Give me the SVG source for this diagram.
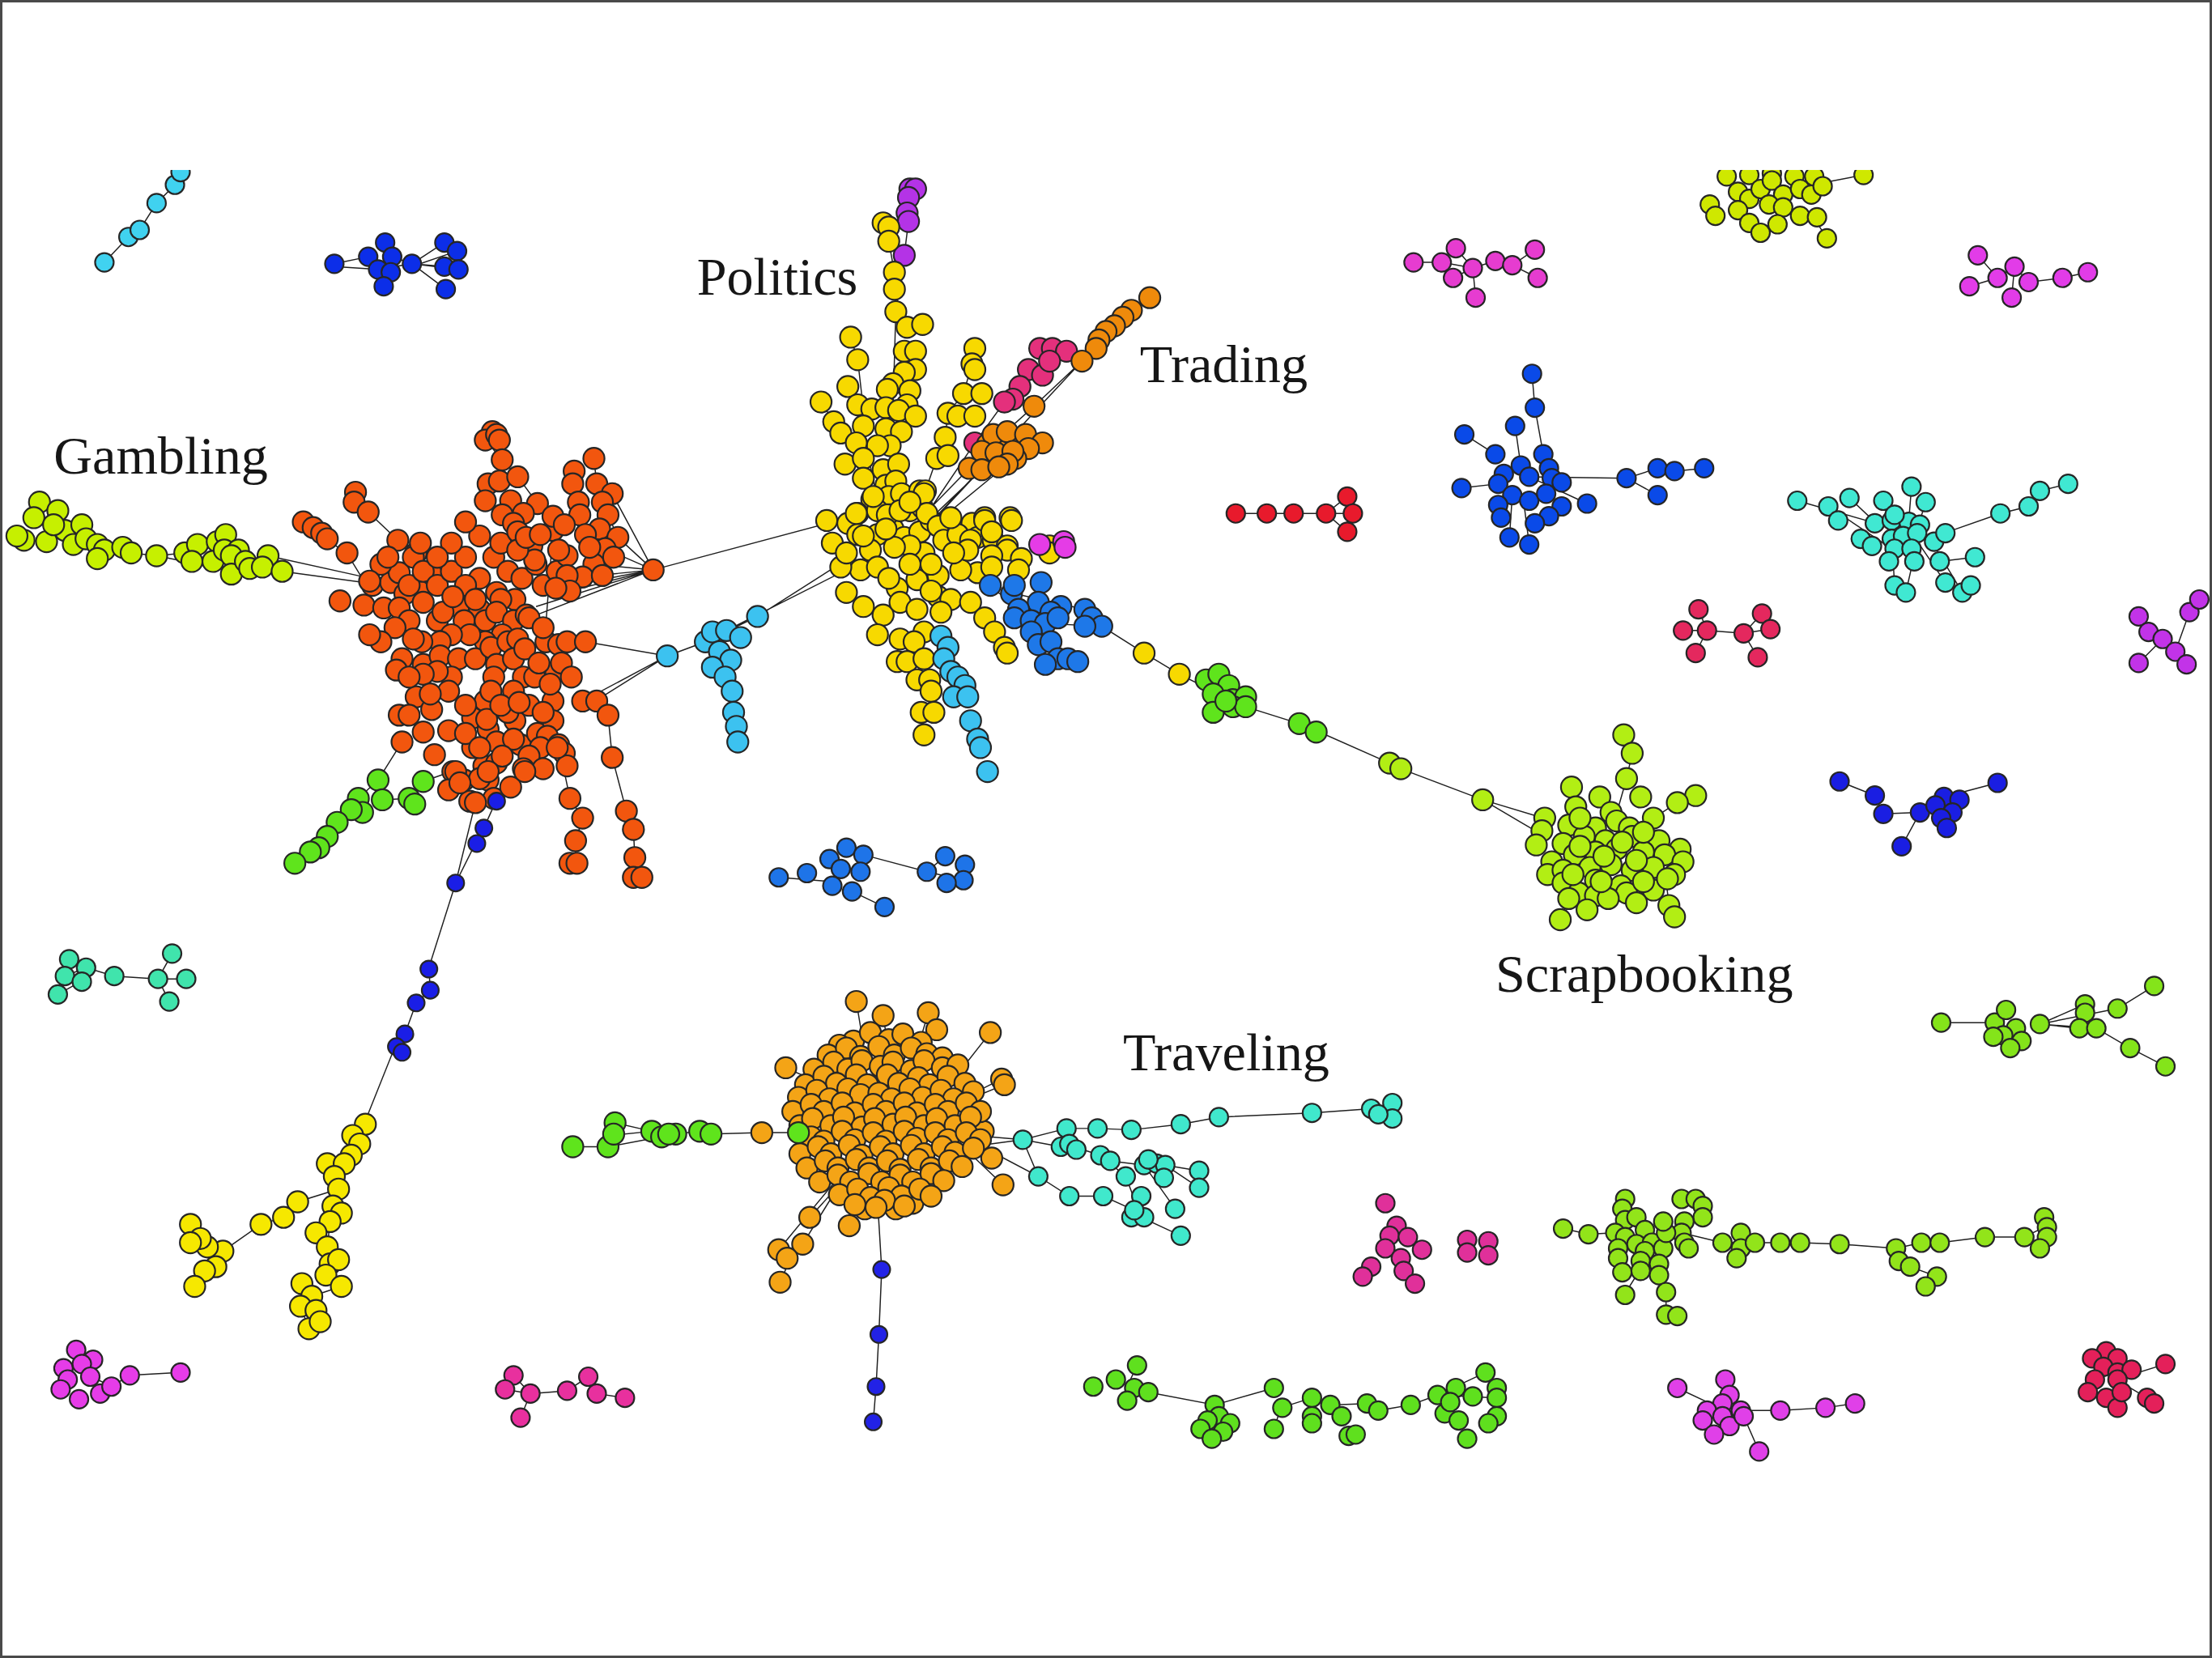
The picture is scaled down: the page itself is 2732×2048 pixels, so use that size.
<svg xmlns="http://www.w3.org/2000/svg" width="2732" height="2048" viewBox="0 0 2732 2048">
<style>
.e{fill:none;stroke:#202020;stroke-width:.85}
#nodes circle{r:7.5px;stroke:#262626;stroke-width:1.25}
#nodes .s circle{r:6.6px}
#nodes .t circle{r:6px}
.lbl{font-family:"Liberation Serif","Times New Roman",serif;font-size:38px;fill:#161616}
</style>
<rect x="0" y="0" width="2732" height="2048" fill="#fff"/>
<g transform="scale(1.74235)">
<g id="connectors">
<path class="e" d="M74,186L91,168L99,163L111,144L124,131L128,122M237,187L261,182M237,189L268,191M278,182L292,187L315,172L324,178M292,187L315,189M292,187L325,191M292,187L316,205M292,189L324,178M268,191L292,187"/>
<path class="e" d="M17,383L33,384L46,376L58,372L69,386L87,388L93,392L111,394L131,392L140,386L154,384L164,394L177,403L190,394L200,405M28,356L41,362L38,372L58,372M200,405L258,413M190,394L258,409M111,394L131,398"/>
<path class="e" d="M215,370L232,382L247,394L258,412M252,349L261,363L282,383L293,395L300,420M344,312L356,326L367,338L381,357L392,376L386,455M421,325L423,343L427,356L431,365L438,381M463,404L434,350M463,404L438,381M463,404L429,389M463,404L421,400M463,404L413,409M463,404L404,419M463,404L394,417M463,404L375,438M463,404L380,430M463,404L598,368M415,455L473,465M422,497L473,465M413,497L473,465M473,465L500,455L537,437L606,393M505,452L600,404"/>
<path class="e" d="M415,497L431,507L434,537L444,575L449,588L450,608L454,622M396,528L404,566L413,580L408,596L408,612M372,547L375,536M285,526L268,553M320,547L300,554M268,553L254,566L249,574L239,583L232,593L226,601L220,604L209,612M270,567L290,566M352,567L343,587L337,598L323,626L304,686L305,702L295,711L287,733L280,742L258,797M337,569L323,626"/>
<path class="e" d="M258,797L250,805L255,811L249,819L238,834L240,843L236,855L242,860L234,866L232,884L234,896L231,904L242,912L221,919L213,926L219,942M240,843L211,852L201,863L185,868L158,887L147,884L135,868M158,887L153,898L145,901L138,912"/>
<path class="e" d="M645,134L643,140L643,151L644,157L641,181L635,221M626,158L630,171L634,193L634,205L635,221L643,232M635,221L633,290M603,239L608,255L612,290M582,285L591,299L596,307L607,314M691,247L689,258L683,279L672,293L670,310L664,325L656,348M756,249L746,247L737,247M744,256L729,262L723,274L718,283L712,285L691,314L660,360M815,210L802,220L796,225L790,231L784,235L779,241L777,247L767,256L733,288L713,306M767,256L670,360M687,332L650,370M696,333L655,372M706,321L660,370M713,330L662,372M608,287L620,345M641,249L640,300M700,415L740,442M715,420L769,432"/>
<path class="e" d="M740,442L781,444L811,463L836,478L860,490M870,497L921,513L933,518L985,541L993,545L1051,567L1094,580M1051,567L1090,590M1151,521L1157,534L1153,552L1145,580M1202,564L1189,569L1172,580M1106,652L1112,637M1187,650L1183,642L1181,623M1114,558L1125,580"/>
<path class="e" d="M876,364L959,364M955,352L955,377M940,364L955,352M940,364L955,377M1193,447L1210,447L1236,449L1255,446M1204,432L1210,447L1202,463M1249,435L1236,449L1246,466M1516,437L1523,448L1533,453L1542,462L1550,471M1542,462L1552,434L1559,425M1533,453L1516,470"/>
<path class="e" d="M1002,186L1022,186L1044,190L1060,185L1072,188L1088,177M1072,188L1090,197M1032,176L1044,190L1030,197M1044,190L1046,211M1402,181L1416,197L1428,189L1438,200L1462,197L1480,193M1396,203L1416,197M1426,211L1428,189"/>
<path class="e" d="M1086,265L1088,289L1094,322M1074,302L1078,330M1038,308L1060,322M1036,346L1062,343M1084,338L1153,339L1175,332L1187,334L1208,332M1153,339L1175,351M1084,338L1125,357M1070,381L1072,351M1084,386L1080,355M1274,355L1330,371M1296,359L1335,385M1311,353L1330,371M1335,355L1341,369M1355,345L1353,370M1365,356L1360,372M1378,378L1418,364L1438,359L1446,348L1466,343M1375,398L1400,395M1343,415L1341,382M1351,420L1356,398M1379,413L1360,385M1391,420L1370,385"/>
<path class="e" d="M1304,554L1329,564L1335,577L1361,576L1378,565L1416,555M1361,576L1348,600M1376,725L1414,725M1446,726L1478,712M1446,726L1474,729M1446,726L1486,729M1446,726L1501,715M1501,715L1527,699M1486,729L1510,743L1535,756"/>
<path class="e" d="M46,692L61,686L81,692L112,694L122,676M112,694L132,694M112,694L120,710M57,696L41,705M65,976L79,983L92,975L128,973M358,985L376,988L402,986L417,976L423,988L443,991M364,975L376,988L369,1005"/>
<path class="e" d="M406,813L431,813M436,796L462,802L479,804L496,802L504,804L540,803L566,803M432,805L462,802M431,813L479,804M607,710L612,740M626,720L630,745M658,718L650,745M664,730L655,745M702,732L680,760M557,757L575,765M710,765L690,775M712,769L690,778M697,802L690,800M703,821L685,815M711,840L690,820M574,863L595,840M569,882L595,840M552,886L590,840M553,909L560,893M602,869L605,850M613,857L615,845M622,850L625,900L623,946L621,983L619,1008"/>
<path class="e" d="M690,805L725,808L756,800L778,800L802,801L837,797L864,792L930,789L972,786L987,782M725,808L752,813M725,808L763,815M725,808L736,834L758,848L782,848L804,858M758,812L780,819L798,834L809,863L837,876M787,823L811,826L820,825L826,826L850,830M826,826L850,842M811,826L833,857M700,815L736,834M695,812L725,808"/>
<path class="e" d="M1108,871L1126,875L1145,874M1192,874L1221,881L1244,881L1262,881L1276,881L1304,882L1344,885L1362,881L1375,881L1407,877L1435,877L1449,870M1344,885L1346,894L1354,898L1373,905L1365,912M1181,916L1181,932L1189,933M1152,850L1150,857M1160,880L1192,874M1152,917L1162,901"/>
<path class="e" d="M806,968L799,983M814,987L861,996L864,1004M861,996L903,984M903,1013L908,998L930,991L943,996L969,995L977,1000L1000,996L1019,989M1053,973L1061,984M1040,1020L1034,1007M1019,989L1061,991M1019,989L1053,973M1189,984L1223,1000L1262,1000L1294,998L1315,995M1223,978L1225,989M1236,1004L1247,1029M1500,978L1535,967M1500,978L1522,991M552,622L590,625M612,606L657,618L670,607M657,618L683,624M604,632L627,643M1295,169L1283,150M1321,124L1290,130"/>
</g>
<g id="nodes">
<g id="cyan-chain" class="s" fill="#40d2f0"><circle cx="74" cy="186"/><circle cx="91" cy="168"/><circle cx="99" cy="163"/><circle cx="111" cy="144"/><circle cx="124" cy="131"/><circle cx="128" cy="122"/></g>
<g id="blue-topleft" class="s" fill="#0c2ee8"><circle cx="237" cy="187"/><circle cx="261" cy="182"/><circle cx="273" cy="172"/><circle cx="278" cy="182"/><circle cx="268" cy="191"/><circle cx="277" cy="193"/><circle cx="272" cy="203"/><circle cx="292" cy="187"/><circle cx="315" cy="172"/><circle cx="324" cy="178"/><circle cx="315" cy="189"/><circle cx="325" cy="191"/><circle cx="316" cy="205"/></g>
<g id="gambling-lime" fill="#c6f000"><circle cx="28" cy="356"/><circle cx="41" cy="362"/><circle cx="24" cy="367"/><circle cx="17" cy="383"/><circle cx="33" cy="384"/><circle cx="46" cy="376"/><circle cx="38" cy="372"/><circle cx="58" cy="372"/><circle cx="52" cy="386"/><circle cx="61" cy="382"/><circle cx="69" cy="386"/><circle cx="74" cy="390"/><circle cx="69" cy="396"/><circle cx="87" cy="388"/><circle cx="93" cy="392"/><circle cx="111" cy="394"/><circle cx="131" cy="392"/><circle cx="140" cy="386"/><circle cx="136" cy="398"/><circle cx="154" cy="384"/><circle cx="160" cy="379"/><circle cx="151" cy="398"/><circle cx="159" cy="390"/><circle cx="169" cy="390"/><circle cx="164" cy="394"/><circle cx="164" cy="407"/><circle cx="174" cy="398"/><circle cx="177" cy="403"/><circle cx="190" cy="394"/><circle cx="186" cy="402"/><circle cx="200" cy="405"/><circle cx="12" cy="380"/></g>
<g id="gambling" fill="#f2560e">
<circle cx="215" cy="370"/><circle cx="222" cy="374"/><circle cx="228" cy="378"/><circle cx="232" cy="382"/><circle cx="252" cy="349"/><circle cx="251" cy="356"/><circle cx="261" cy="363"/><circle cx="246" cy="392"/><circle cx="282" cy="383"/><circle cx="295" cy="392"/><circle cx="241" cy="426"/><circle cx="258" cy="429"/><circle cx="272" cy="431"/><circle cx="264" cy="415"/><circle cx="277" cy="413"/><circle cx="283" cy="406"/><circle cx="293" cy="395"/><circle cx="306" cy="407"/><circle cx="297" cy="419"/><circle cx="287" cy="421"/><circle cx="283" cy="431"/>
<circle cx="290" cy="415"/><circle cx="270" cy="400"/><circle cx="262" cy="412"/><circle cx="275" cy="395"/><circle cx="300" cy="405"/><circle cx="310" cy="415"/><circle cx="320" cy="405"/><circle cx="330" cy="395"/><circle cx="340" cy="410"/><circle cx="350" cy="395"/><circle cx="360" cy="405"/><circle cx="340" cy="380"/><circle cx="330" cy="370"/><circle cx="320" cy="385"/><circle cx="310" cy="395"/><circle cx="298" cy="385"/><circle cx="355" cy="385"/><circle cx="370" cy="410"/><circle cx="385" cy="415"/><circle cx="380" cy="400"/><circle cx="395" cy="405"/><circle cx="352" cy="420"/><circle cx="365" cy="425"/><circle cx="330" cy="415"/>
<circle cx="349" cy="306"/><circle cx="344" cy="312"/><circle cx="352" cy="308"/><circle cx="354" cy="312"/><circle cx="356" cy="326"/><circle cx="346" cy="343"/><circle cx="354" cy="341"/><circle cx="367" cy="338"/><circle cx="344" cy="355"/><circle cx="362" cy="355"/><circle cx="381" cy="357"/><circle cx="356" cy="365"/><circle cx="371" cy="364"/><circle cx="364" cy="371"/><circle cx="367" cy="377"/><circle cx="377" cy="387"/><circle cx="392" cy="376"/><circle cx="379" cy="397"/><circle cx="367" cy="390"/><circle cx="373" cy="381"/><circle cx="383" cy="379"/>
<circle cx="421" cy="325"/><circle cx="407" cy="334"/><circle cx="423" cy="343"/><circle cx="406" cy="343"/><circle cx="434" cy="350"/><circle cx="427" cy="356"/><circle cx="410" cy="356"/><circle cx="411" cy="365"/><circle cx="431" cy="365"/><circle cx="425" cy="375"/><circle cx="438" cy="381"/><circle cx="415" cy="379"/><circle cx="429" cy="389"/><circle cx="402" cy="394"/><circle cx="421" cy="400"/><circle cx="413" cy="409"/><circle cx="402" cy="408"/><circle cx="404" cy="419"/><circle cx="394" cy="417"/><circle cx="427" cy="408"/><circle cx="396" cy="390"/><circle cx="392" cy="366"/><circle cx="400" cy="372"/><circle cx="418" cy="388"/><circle cx="435" cy="395"/>
<circle cx="463" cy="404"/>
<circle cx="310" cy="440"/><circle cx="325" cy="430"/><circle cx="340" cy="432"/><circle cx="355" cy="425"/><circle cx="290" cy="440"/><circle cx="280" cy="445"/><circle cx="270" cy="455"/><circle cx="262" cy="450"/>
<circle cx="300" cy="427"/><circle cx="314" cy="434"/><circle cx="321" cy="423"/><circle cx="337" cy="425"/><circle cx="329" cy="440"/><circle cx="344" cy="440"/><circle cx="352" cy="434"/><circle cx="364" cy="440"/><circle cx="373" cy="436"/><circle cx="356" cy="450"/><circle cx="344" cy="455"/><circle cx="333" cy="450"/><circle cx="320" cy="450"/><circle cx="312" cy="455"/><circle cx="299" cy="455"/><circle cx="293" cy="453"/><circle cx="285" cy="467"/><circle cx="281" cy="475"/><circle cx="300" cy="471"/><circle cx="312" cy="465"/><circle cx="325" cy="467"/><circle cx="337" cy="467"/><circle cx="348" cy="459"/><circle cx="360" cy="455"/><circle cx="367" cy="453"/><circle cx="375" cy="438"/><circle cx="387" cy="455"/><circle cx="396" cy="457"/><circle cx="402" cy="455"/><circle cx="415" cy="455"/><circle cx="385" cy="445"/>
<circle cx="352" cy="471"/><circle cx="364" cy="467"/><circle cx="371" cy="480"/><circle cx="379" cy="480"/><circle cx="364" cy="490"/><circle cx="350" cy="480"/><circle cx="344" cy="497"/><circle cx="348" cy="490"/><circle cx="320" cy="480"/><circle cx="310" cy="476"/><circle cx="300" cy="478"/><circle cx="295" cy="494"/><circle cx="306" cy="503"/><circle cx="283" cy="507"/><circle cx="300" cy="519"/><circle cx="285" cy="526"/><circle cx="335" cy="509"/><circle cx="346" cy="517"/><circle cx="352" cy="526"/><circle cx="365" cy="511"/><circle cx="369" cy="528"/><circle cx="381" cy="520"/><circle cx="392" cy="497"/><circle cx="392" cy="511"/><circle cx="388" cy="522"/><circle cx="396" cy="528"/><circle cx="400" cy="534"/><circle cx="383" cy="530"/><circle cx="375" cy="536"/><circle cx="335" cy="530"/><circle cx="321" cy="547"/><circle cx="329" cy="553"/><circle cx="343" cy="543"/><circle cx="352" cy="541"/><circle cx="346" cy="553"/><circle cx="402" cy="543"/><circle cx="371" cy="545"/><circle cx="394" cy="476"/><circle cx="413" cy="497"/><circle cx="423" cy="497"/><circle cx="364" cy="524"/><circle cx="356" cy="536"/><circle cx="333" cy="568"/><circle cx="350" cy="566"/>
<circle cx="372" cy="460"/><circle cx="382" cy="470"/><circle cx="390" cy="485"/><circle cx="375" cy="500"/><circle cx="360" cy="505"/><circle cx="345" cy="510"/><circle cx="330" cy="500"/><circle cx="318" cy="490"/><circle cx="305" cy="492"/><circle cx="290" cy="480"/><circle cx="318" cy="518"/><circle cx="330" cy="520"/><circle cx="340" cy="530"/><circle cx="355" cy="500"/><circle cx="368" cy="498"/><circle cx="385" cy="505"/><circle cx="398" cy="470"/><circle cx="405" cy="480"/><circle cx="290" cy="507"/><circle cx="308" cy="535"/><circle cx="318" cy="560"/><circle cx="362" cy="558"/><circle cx="340" cy="552"/><circle cx="385" cy="545"/><circle cx="395" cy="530"/>
<circle cx="431" cy="507"/><circle cx="434" cy="537"/><circle cx="444" cy="575"/><circle cx="449" cy="588"/><circle cx="450" cy="608"/><circle cx="449" cy="622"/><circle cx="455" cy="622"/><circle cx="404" cy="566"/><circle cx="413" cy="580"/><circle cx="408" cy="596"/><circle cx="404" cy="612"/><circle cx="409" cy="612"/><circle cx="372" cy="547"/><circle cx="337" cy="569"/><circle cx="346" cy="547"/><circle cx="323" cy="547"/><circle cx="326" cy="555"/>
</g>
<g id="gambling-green" fill="#5fe41c"><circle cx="268" cy="553"/><circle cx="300" cy="554"/><circle cx="271" cy="567"/><circle cx="290" cy="566"/><circle cx="294" cy="570"/><circle cx="254" cy="566"/><circle cx="257" cy="576"/><circle cx="249" cy="574"/><circle cx="239" cy="583"/><circle cx="232" cy="593"/><circle cx="226" cy="601"/><circle cx="220" cy="604"/><circle cx="209" cy="612"/></g>
<g id="blue-chain" class="t" fill="#1a1ee6"><circle cx="352" cy="568"/><circle cx="343" cy="587"/><circle cx="338" cy="598"/><circle cx="323" cy="626"/><circle cx="304" cy="687"/><circle cx="305" cy="702"/><circle cx="295" cy="711"/><circle cx="287" cy="733"/><circle cx="281" cy="742"/><circle cx="285" cy="746"/></g>
<g id="yellow-lowerleft" fill="#f6e800"><circle cx="259" cy="797"/><circle cx="250" cy="805"/><circle cx="255" cy="811"/><circle cx="249" cy="819"/><circle cx="232" cy="825"/><circle cx="244" cy="825"/><circle cx="237" cy="834"/><circle cx="240" cy="843"/><circle cx="236" cy="855"/><circle cx="242" cy="860"/><circle cx="234" cy="866"/><circle cx="224" cy="874"/><circle cx="232" cy="884"/><circle cx="234" cy="896"/><circle cx="240" cy="893"/><circle cx="231" cy="904"/><circle cx="242" cy="912"/><circle cx="214" cy="910"/><circle cx="221" cy="919"/><circle cx="213" cy="926"/><circle cx="224" cy="929"/><circle cx="219" cy="942"/><circle cx="227" cy="937"/><circle cx="211" cy="852"/><circle cx="201" cy="863"/><circle cx="185" cy="868"/><circle cx="158" cy="887"/><circle cx="147" cy="884"/><circle cx="135" cy="868"/><circle cx="142" cy="878"/><circle cx="135" cy="881"/><circle cx="153" cy="898"/><circle cx="145" cy="901"/><circle cx="138" cy="912"/></g>
<g id="teal-left" class="s" fill="#40e4ac"><circle cx="49" cy="680"/><circle cx="61" cy="686"/><circle cx="46" cy="692"/><circle cx="58" cy="696"/><circle cx="41" cy="705"/><circle cx="81" cy="692"/><circle cx="112" cy="694"/><circle cx="122" cy="676"/><circle cx="132" cy="694"/><circle cx="120" cy="710"/></g>
<g id="magenta-bottomleft" class="s" fill="#e63ce8"><circle cx="54" cy="957"/><circle cx="66" cy="964"/><circle cx="45" cy="970"/><circle cx="58" cy="967"/><circle cx="48" cy="978"/><circle cx="64" cy="976"/><circle cx="43" cy="985"/><circle cx="56" cy="992"/><circle cx="71" cy="988"/><circle cx="79" cy="983"/><circle cx="92" cy="975"/><circle cx="128" cy="973"/></g>
<g id="pink-bottom" class="s" fill="#e8309e"><circle cx="364" cy="975"/><circle cx="358" cy="985"/><circle cx="376" cy="988"/><circle cx="369" cy="1005"/><circle cx="402" cy="986"/><circle cx="417" cy="976"/><circle cx="423" cy="988"/><circle cx="443" cy="991"/></g>
<g id="skyblue-gambling" fill="#3cc2f0"><circle cx="473" cy="465"/><circle cx="537" cy="437"/><circle cx="500" cy="455"/><circle cx="505" cy="448"/><circle cx="515" cy="447"/><circle cx="525" cy="452"/><circle cx="510" cy="462"/><circle cx="518" cy="468"/><circle cx="505" cy="473"/><circle cx="514" cy="480"/><circle cx="519" cy="490"/><circle cx="520" cy="505"/><circle cx="522" cy="515"/><circle cx="523" cy="526"/></g>
<g id="purple-top" fill="#b433e6"><circle cx="645" cy="134"/><circle cx="649" cy="134"/><circle cx="644" cy="140"/><circle cx="643" cy="151"/><circle cx="644" cy="157"/><circle cx="641" cy="181"/></g>
<g id="politics" fill="#f7d900">
<circle cx="626" cy="158"/><circle cx="630" cy="161"/><circle cx="630" cy="171"/><circle cx="634" cy="193"/><circle cx="634" cy="205"/><circle cx="635" cy="221"/><circle cx="643" cy="232"/><circle cx="654" cy="230"/>
<circle cx="603" cy="239"/><circle cx="608" cy="255"/><circle cx="601" cy="274"/><circle cx="582" cy="285"/><circle cx="591" cy="299"/><circle cx="596" cy="307"/>
<circle cx="641" cy="249"/><circle cx="649" cy="249"/><circle cx="649" cy="262"/><circle cx="641" cy="264"/><circle cx="633" cy="272"/><circle cx="645" cy="277"/><circle cx="643" cy="287"/><circle cx="629" cy="276"/><circle cx="608" cy="287"/><circle cx="618" cy="290"/><circle cx="628" cy="289"/><circle cx="637" cy="291"/><circle cx="649" cy="295"/><circle cx="612" cy="302"/><circle cx="628" cy="304"/><circle cx="639" cy="306"/><circle cx="631" cy="316"/><circle cx="622" cy="316"/><circle cx="607" cy="314"/><circle cx="599" cy="329"/><circle cx="612" cy="325"/><circle cx="626" cy="333"/><circle cx="637" cy="329"/><circle cx="612" cy="339"/><circle cx="628" cy="344"/><circle cx="635" cy="341"/><circle cx="618" cy="354"/><circle cx="630" cy="352"/><circle cx="639" cy="350"/><circle cx="652" cy="348"/>
<circle cx="691" cy="247"/><circle cx="689" cy="258"/><circle cx="691" cy="262"/><circle cx="683" cy="279"/><circle cx="696" cy="279"/><circle cx="672" cy="293"/><circle cx="679" cy="295"/><circle cx="691" cy="295"/><circle cx="670" cy="310"/><circle cx="664" cy="325"/><circle cx="672" cy="323"/><circle cx="656" cy="348"/>
<circle cx="586" cy="369"/><circle cx="601" cy="371"/><circle cx="608" cy="364"/><circle cx="622" cy="362"/><circle cx="631" cy="365"/><circle cx="645" cy="362"/><circle cx="654" cy="360"/><circle cx="608" cy="379"/><circle cx="622" cy="379"/><circle cx="633" cy="375"/><circle cx="641" cy="381"/><circle cx="652" cy="377"/><circle cx="660" cy="369"/><circle cx="670" cy="371"/><circle cx="679" cy="375"/><circle cx="689" cy="371"/><circle cx="698" cy="367"/><circle cx="716" cy="367"/><circle cx="693" cy="381"/><circle cx="704" cy="383"/><circle cx="714" cy="387"/><circle cx="744" cy="387"/>
<circle cx="607" cy="364"/><circle cx="619" cy="352"/><circle cx="629" cy="365"/><circle cx="638" cy="362"/><circle cx="655" cy="350"/><circle cx="657" cy="364"/><circle cx="665" cy="373"/><circle cx="669" cy="383"/><circle cx="679" cy="379"/><circle cx="688" cy="383"/><circle cx="698" cy="369"/><circle cx="703" cy="377"/><circle cx="717" cy="369"/><circle cx="714" cy="390"/><circle cx="724" cy="396"/><circle cx="703" cy="394"/><circle cx="693" cy="406"/><circle cx="681" cy="404"/><circle cx="665" cy="408"/><circle cx="655" cy="392"/><circle cx="645" cy="387"/><circle cx="634" cy="388"/><circle cx="617" cy="390"/><circle cx="610" cy="404"/><circle cx="622" cy="402"/><circle cx="636" cy="417"/><circle cx="650" cy="411"/><circle cx="665" cy="423"/><circle cx="674" cy="425"/><circle cx="660" cy="419"/><circle cx="688" cy="427"/><circle cx="626" cy="436"/><circle cx="638" cy="427"/><circle cx="650" cy="432"/><circle cx="655" cy="448"/><circle cx="667" cy="434"/><circle cx="622" cy="450"/><circle cx="638" cy="453"/><circle cx="648" cy="455"/><circle cx="636" cy="469"/><circle cx="643" cy="469"/><circle cx="655" cy="467"/><circle cx="650" cy="482"/><circle cx="659" cy="482"/><circle cx="660" cy="490"/><circle cx="653" cy="505"/><circle cx="662" cy="505"/><circle cx="655" cy="521"/><circle cx="698" cy="438"/><circle cx="705" cy="448"/><circle cx="712" cy="459"/><circle cx="714" cy="463"/><circle cx="645" cy="356"/><circle cx="674" cy="367"/><circle cx="686" cy="390"/><circle cx="703" cy="402"/><circle cx="722" cy="404"/><circle cx="744" cy="392"/>
<circle cx="596" cy="402"/><circle cx="590" cy="385"/><circle cx="600" cy="392"/><circle cx="612" cy="380"/><circle cx="628" cy="375"/><circle cx="600" cy="420"/><circle cx="612" cy="430"/><circle cx="676" cy="392"/><circle cx="660" cy="400"/><circle cx="645" cy="400"/><circle cx="630" cy="410"/>
<circle cx="811" cy="463"/><circle cx="836" cy="478"/>
</g>
<g id="politics-magenta" fill="#e53ce6"><circle cx="737" cy="386"/><circle cx="754" cy="384"/><circle cx="755" cy="388"/></g>
<g id="politics-pink" fill="#e4307c"><circle cx="737" cy="247"/><circle cx="746" cy="247"/><circle cx="756" cy="249"/><circle cx="729" cy="262"/><circle cx="739" cy="266"/><circle cx="744" cy="256"/><circle cx="723" cy="274"/><circle cx="718" cy="283"/><circle cx="712" cy="285"/><circle cx="691" cy="314"/></g>
<g id="trading" fill="#ef8a0b"><circle cx="815" cy="211"/><circle cx="802" cy="220"/><circle cx="796" cy="225"/><circle cx="790" cy="231"/><circle cx="784" cy="235"/><circle cx="779" cy="241"/><circle cx="777" cy="247"/><circle cx="767" cy="256"/><circle cx="733" cy="288"/><circle cx="700" cy="315"/><circle cx="710" cy="312"/><circle cx="722" cy="312"/><circle cx="704" cy="308"/><circle cx="714" cy="306"/><circle cx="727" cy="308"/><circle cx="739" cy="314"/><circle cx="729" cy="318"/><circle cx="720" cy="325"/><circle cx="696" cy="320"/><circle cx="706" cy="321"/><circle cx="718" cy="320"/><circle cx="714" cy="329"/><circle cx="687" cy="332"/><circle cx="696" cy="333"/><circle cx="708" cy="331"/></g>
<g id="politics-skyblue" fill="#3cc2f0"><circle cx="667" cy="451"/><circle cx="672" cy="459"/><circle cx="669" cy="467"/><circle cx="674" cy="476"/><circle cx="679" cy="480"/><circle cx="684" cy="486"/><circle cx="676" cy="494"/><circle cx="686" cy="494"/><circle cx="688" cy="511"/><circle cx="693" cy="524"/><circle cx="695" cy="530"/><circle cx="700" cy="547"/></g>
<g id="politics-blue" fill="#1e78e8"><circle cx="702" cy="415"/><circle cx="717" cy="421"/><circle cx="719" cy="415"/><circle cx="738" cy="413"/><circle cx="736" cy="427"/><circle cx="752" cy="430"/><circle cx="745" cy="434"/><circle cx="722" cy="432"/><circle cx="719" cy="438"/><circle cx="731" cy="440"/><circle cx="741" cy="442"/><circle cx="750" cy="438"/><circle cx="769" cy="432"/><circle cx="774" cy="438"/><circle cx="781" cy="444"/><circle cx="769" cy="444"/><circle cx="731" cy="448"/><circle cx="736" cy="457"/><circle cx="745" cy="455"/><circle cx="750" cy="467"/><circle cx="741" cy="471"/><circle cx="757" cy="467"/><circle cx="764" cy="469"/></g>
<g id="green-mid" fill="#5fe41c"><circle cx="855" cy="482"/><circle cx="864" cy="478"/><circle cx="871" cy="486"/><circle cx="860" cy="492"/><circle cx="874" cy="496"/><circle cx="883" cy="494"/><circle cx="860" cy="505"/><circle cx="874" cy="501"/><circle cx="883" cy="501"/><circle cx="869" cy="497"/><circle cx="921" cy="513"/><circle cx="933" cy="519"/></g>
<g id="blue-mid" class="s" fill="#1e74e8"><circle cx="552" cy="622"/><circle cx="572" cy="619"/><circle cx="588" cy="609"/><circle cx="600" cy="601"/><circle cx="612" cy="606"/><circle cx="596" cy="616"/><circle cx="610" cy="618"/><circle cx="590" cy="628"/><circle cx="604" cy="632"/><circle cx="627" cy="643"/><circle cx="657" cy="618"/><circle cx="670" cy="607"/><circle cx="684" cy="613"/><circle cx="683" cy="624"/><circle cx="671" cy="626"/></g>
<g id="red-chain" class="s" fill="#e81a2c"><circle cx="876" cy="364"/><circle cx="898" cy="364"/><circle cx="917" cy="364"/><circle cx="940" cy="364"/><circle cx="955" cy="352"/><circle cx="959" cy="364"/><circle cx="955" cy="377"/></g>
<g id="scrapbooking" fill="#b2ee14">
<circle cx="985" cy="541"/><circle cx="993" cy="545"/><circle cx="1051" cy="567"/>
<circle cx="1151" cy="521"/><circle cx="1157" cy="534"/><circle cx="1153" cy="552"/><circle cx="1114" cy="558"/><circle cx="1134" cy="565"/><circle cx="1163" cy="565"/><circle cx="1202" cy="564"/><circle cx="1189" cy="569"/><circle cx="1117" cy="572"/><circle cx="1095" cy="580"/><circle cx="1142" cy="576"/><circle cx="1172" cy="580"/><circle cx="1093" cy="589"/><circle cx="1112" cy="585"/><circle cx="1131" cy="587"/><circle cx="1146" cy="582"/><circle cx="1155" cy="587"/><circle cx="1089" cy="599"/><circle cx="1108" cy="598"/><circle cx="1123" cy="593"/><circle cx="1138" cy="596"/><circle cx="1157" cy="593"/><circle cx="1176" cy="596"/><circle cx="1191" cy="602"/><circle cx="1100" cy="611"/><circle cx="1116" cy="606"/><circle cx="1131" cy="604"/><circle cx="1146" cy="602"/><circle cx="1165" cy="604"/><circle cx="1180" cy="606"/><circle cx="1193" cy="611"/><circle cx="1097" cy="620"/><circle cx="1108" cy="617"/><circle cx="1127" cy="615"/><circle cx="1142" cy="613"/><circle cx="1157" cy="617"/><circle cx="1172" cy="615"/><circle cx="1187" cy="620"/><circle cx="1108" cy="626"/><circle cx="1131" cy="624"/><circle cx="1149" cy="628"/><circle cx="1172" cy="631"/><circle cx="1182" cy="623"/><circle cx="1119" cy="633"/><circle cx="1131" cy="635"/><circle cx="1153" cy="633"/><circle cx="1112" cy="637"/><circle cx="1183" cy="642"/><circle cx="1187" cy="650"/><circle cx="1106" cy="652"/><circle cx="1140" cy="637"/>
<circle cx="1120" cy="580"/><circle cx="1165" cy="590"/><circle cx="1120" cy="600"/><circle cx="1160" cy="610"/><circle cx="1115" cy="620"/><circle cx="1135" cy="625"/><circle cx="1165" cy="625"/><circle cx="1125" cy="645"/><circle cx="1160" cy="640"/><circle cx="1150" cy="597"/><circle cx="1137" cy="607"/></g>
<g id="crimson-mid" class="s" fill="#e4285e"><circle cx="1204" cy="432"/><circle cx="1193" cy="447"/><circle cx="1210" cy="447"/><circle cx="1202" cy="463"/><circle cx="1236" cy="449"/><circle cx="1249" cy="435"/><circle cx="1255" cy="446"/><circle cx="1246" cy="466"/></g>
<g id="purple-right" class="s" fill="#c233e8"><circle cx="1516" cy="437"/><circle cx="1523" cy="448"/><circle cx="1533" cy="453"/><circle cx="1542" cy="462"/><circle cx="1552" cy="434"/><circle cx="1559" cy="425"/><circle cx="1516" cy="470"/><circle cx="1550" cy="471"/></g>
<g id="blue-right" class="s" fill="#1a1ee2"><circle cx="1304" cy="554"/><circle cx="1329" cy="564"/><circle cx="1335" cy="577"/><circle cx="1361" cy="576"/><circle cx="1378" cy="565"/><circle cx="1389" cy="567"/><circle cx="1372" cy="571"/><circle cx="1384" cy="576"/><circle cx="1376" cy="580"/><circle cx="1380" cy="587"/><circle cx="1416" cy="555"/><circle cx="1348" cy="600"/></g>
<g id="green-right" class="s" fill="#84e41a"><circle cx="1376" cy="725"/><circle cx="1414" cy="725"/><circle cx="1422" cy="716"/><circle cx="1429" cy="729"/><circle cx="1420" cy="734"/><circle cx="1433" cy="738"/><circle cx="1446" cy="726"/><circle cx="1425" cy="743"/><circle cx="1413" cy="735"/><circle cx="1478" cy="712"/><circle cx="1501" cy="715"/><circle cx="1478" cy="718"/><circle cx="1474" cy="729"/><circle cx="1486" cy="729"/><circle cx="1527" cy="699"/><circle cx="1510" cy="743"/><circle cx="1535" cy="756"/></g>
<g id="lime-top" class="s" fill="#cfe800"><circle cx="1240" cy="124"/><circle cx="1256" cy="123"/><circle cx="1272" cy="125"/><circle cx="1286" cy="125"/><circle cx="1321" cy="124"/><circle cx="1224" cy="125"/><circle cx="1212" cy="145"/><circle cx="1216" cy="153"/><circle cx="1232" cy="136"/><circle cx="1240" cy="141"/><circle cx="1232" cy="149"/><circle cx="1248" cy="134"/><circle cx="1256" cy="128"/><circle cx="1264" cy="138"/><circle cx="1254" cy="145"/><circle cx="1264" cy="147"/><circle cx="1240" cy="158"/><circle cx="1248" cy="165"/><circle cx="1260" cy="159"/><circle cx="1276" cy="153"/><circle cx="1288" cy="154"/><circle cx="1276" cy="134"/><circle cx="1284" cy="138"/><circle cx="1292" cy="132"/><circle cx="1295" cy="169"/></g>
<g id="magenta-topleft" class="s" fill="#e63cd0"><circle cx="1002" cy="186"/><circle cx="1022" cy="186"/><circle cx="1032" cy="176"/><circle cx="1030" cy="197"/><circle cx="1044" cy="190"/><circle cx="1046" cy="211"/><circle cx="1060" cy="185"/><circle cx="1072" cy="188"/><circle cx="1088" cy="177"/><circle cx="1090" cy="197"/></g>
<g id="magenta-topright" class="s" fill="#e23ce8"><circle cx="1402" cy="181"/><circle cx="1416" cy="197"/><circle cx="1428" cy="189"/><circle cx="1438" cy="200"/><circle cx="1396" cy="203"/><circle cx="1426" cy="211"/><circle cx="1462" cy="197"/><circle cx="1480" cy="193"/></g>
<g id="blue-center" class="s" fill="#0a4ae8"><circle cx="1086" cy="265"/><circle cx="1088" cy="289"/><circle cx="1074" cy="302"/><circle cx="1038" cy="308"/><circle cx="1060" cy="322"/><circle cx="1094" cy="322"/><circle cx="1078" cy="330"/><circle cx="1098" cy="332"/><circle cx="1066" cy="336"/><circle cx="1084" cy="338"/><circle cx="1100" cy="339"/><circle cx="1107" cy="342"/><circle cx="1036" cy="346"/><circle cx="1062" cy="343"/><circle cx="1072" cy="351"/><circle cx="1084" cy="355"/><circle cx="1096" cy="350"/><circle cx="1062" cy="358"/><circle cx="1107" cy="359"/><circle cx="1098" cy="366"/><circle cx="1064" cy="367"/><circle cx="1088" cy="371"/><circle cx="1125" cy="357"/><circle cx="1070" cy="381"/><circle cx="1084" cy="386"/><circle cx="1153" cy="339"/><circle cx="1175" cy="332"/><circle cx="1187" cy="334"/><circle cx="1208" cy="332"/><circle cx="1175" cy="351"/></g>
<g id="teal-right" class="s" fill="#40e8d2"><circle cx="1274" cy="355"/><circle cx="1296" cy="359"/><circle cx="1303" cy="369"/><circle cx="1311" cy="353"/><circle cx="1335" cy="355"/><circle cx="1355" cy="345"/><circle cx="1365" cy="356"/><circle cx="1329" cy="371"/><circle cx="1341" cy="369"/><circle cx="1353" cy="370"/><circle cx="1361" cy="372"/><circle cx="1319" cy="382"/><circle cx="1327" cy="387"/><circle cx="1341" cy="382"/><circle cx="1349" cy="380"/><circle cx="1359" cy="378"/><circle cx="1371" cy="384"/><circle cx="1379" cy="378"/><circle cx="1343" cy="389"/><circle cx="1355" cy="389"/><circle cx="1375" cy="398"/><circle cx="1400" cy="395"/><circle cx="1339" cy="398"/><circle cx="1357" cy="398"/><circle cx="1343" cy="415"/><circle cx="1351" cy="420"/><circle cx="1379" cy="413"/><circle cx="1391" cy="420"/><circle cx="1397" cy="415"/><circle cx="1418" cy="364"/><circle cx="1438" cy="359"/><circle cx="1446" cy="348"/><circle cx="1466" cy="343"/><circle cx="1343" cy="365"/></g>
<g id="traveling-green" fill="#5fe41c"><circle cx="406" cy="813"/><circle cx="431" cy="813"/><circle cx="436" cy="796"/><circle cx="435" cy="804"/><circle cx="462" cy="802"/><circle cx="469" cy="806"/><circle cx="479" cy="804"/><circle cx="474" cy="804"/><circle cx="496" cy="802"/><circle cx="504" cy="804"/></g>
<g id="traveling" fill="#f4a416">
<circle cx="540" cy="803"/><circle cx="607" cy="710"/><circle cx="626" cy="720"/><circle cx="658" cy="718"/><circle cx="664" cy="730"/><circle cx="702" cy="732"/><circle cx="557" cy="757"/><circle cx="710" cy="765"/><circle cx="712" cy="769"/><circle cx="697" cy="802"/><circle cx="703" cy="821"/><circle cx="711" cy="840"/><circle cx="574" cy="863"/><circle cx="569" cy="882"/><circle cx="552" cy="886"/><circle cx="558" cy="892"/><circle cx="553" cy="909"/><circle cx="602" cy="869"/><circle cx="613" cy="857"/><circle cx="635" cy="857"/><circle cx="647" cy="853"/>
<circle cx="605" cy="738"/><circle cx="617" cy="732"/><circle cx="630" cy="737"/><circle cx="640" cy="733"/><circle cx="653" cy="739"/><circle cx="595" cy="741"/>
<circle cx="587" cy="748"/><circle cx="600" cy="743"/><circle cx="610" cy="749"/><circle cx="623" cy="742"/><circle cx="634" cy="748"/><circle cx="646" cy="743"/><circle cx="657" cy="747"/><circle cx="668" cy="750"/>
<circle cx="577" cy="758"/><circle cx="591" cy="753"/><circle cx="601" cy="758"/><circle cx="611" cy="752"/><circle cx="624" cy="756"/><circle cx="633" cy="753"/><circle cx="646" cy="759"/><circle cx="655" cy="752"/><circle cx="668" cy="757"/><circle cx="679" cy="755"/>
<circle cx="571" cy="769"/><circle cx="584" cy="763"/><circle cx="593" cy="768"/><circle cx="607" cy="762"/><circle cx="615" cy="769"/><circle cx="629" cy="762"/><circle cx="637" cy="768"/><circle cx="651" cy="764"/><circle cx="659" cy="769"/><circle cx="672" cy="763"/><circle cx="684" cy="768"/>
<circle cx="566" cy="778"/><circle cx="579" cy="773"/><circle cx="588" cy="779"/><circle cx="601" cy="772"/><circle cx="610" cy="776"/><circle cx="623" cy="775"/><circle cx="632" cy="779"/><circle cx="645" cy="772"/><circle cx="654" cy="778"/><circle cx="667" cy="773"/><circle cx="676" cy="779"/><circle cx="690" cy="774"/>
<circle cx="562" cy="788"/><circle cx="575" cy="783"/><circle cx="584" cy="788"/><circle cx="597" cy="782"/><circle cx="606" cy="789"/><circle cx="619" cy="783"/><circle cx="628" cy="788"/><circle cx="641" cy="782"/><circle cx="650" cy="789"/><circle cx="663" cy="783"/><circle cx="672" cy="788"/><circle cx="685" cy="782"/><circle cx="695" cy="788"/>
<circle cx="567" cy="798"/><circle cx="576" cy="793"/><circle cx="589" cy="798"/><circle cx="598" cy="792"/><circle cx="611" cy="799"/><circle cx="620" cy="793"/><circle cx="633" cy="797"/><circle cx="642" cy="792"/><circle cx="655" cy="798"/><circle cx="664" cy="793"/><circle cx="677" cy="798"/><circle cx="688" cy="792"/>
<circle cx="575" cy="806"/><circle cx="584" cy="809"/><circle cx="597" cy="802"/><circle cx="606" cy="808"/><circle cx="619" cy="803"/><circle cx="628" cy="809"/><circle cx="641" cy="802"/><circle cx="650" cy="807"/><circle cx="663" cy="803"/><circle cx="672" cy="808"/><circle cx="685" cy="803"/><circle cx="695" cy="808"/>
<circle cx="567" cy="818"/><circle cx="580" cy="813"/><circle cx="589" cy="818"/><circle cx="602" cy="812"/><circle cx="611" cy="819"/><circle cx="624" cy="813"/><circle cx="633" cy="818"/><circle cx="646" cy="812"/><circle cx="655" cy="818"/><circle cx="668" cy="813"/><circle cx="677" cy="817"/><circle cx="690" cy="814"/>
<circle cx="572" cy="828"/><circle cx="585" cy="823"/><circle cx="594" cy="828"/><circle cx="607" cy="822"/><circle cx="616" cy="828"/><circle cx="629" cy="823"/><circle cx="638" cy="829"/><circle cx="651" cy="822"/><circle cx="660" cy="828"/><circle cx="673" cy="823"/><circle cx="682" cy="827"/>
<circle cx="581" cy="838"/><circle cx="594" cy="833"/><circle cx="603" cy="838"/><circle cx="616" cy="832"/><circle cx="625" cy="838"/><circle cx="638" cy="833"/><circle cx="647" cy="838"/><circle cx="660" cy="832"/><circle cx="669" cy="837"/>
<circle cx="595" cy="847"/><circle cx="608" cy="843"/><circle cx="617" cy="849"/><circle cx="630" cy="842"/><circle cx="639" cy="848"/><circle cx="652" cy="843"/><circle cx="660" cy="848"/><circle cx="627" cy="851"/><circle cx="606" cy="854"/><circle cx="621" cy="856"/><circle cx="641" cy="855"/>
</g>
<g id="traveling-green-inner" fill="#5fe41c"><circle cx="566" cy="803"/></g>
<g id="traveling-blue" class="t" fill="#2222e6"><circle cx="625" cy="900"/><circle cx="623" cy="946"/><circle cx="621" cy="983"/><circle cx="619" cy="1008"/></g>
<g id="traveling-teal" class="s" fill="#40e8cc"><circle cx="725" cy="808"/><circle cx="752" cy="813"/><circle cx="756" cy="800"/><circle cx="758" cy="811"/><circle cx="763" cy="815"/><circle cx="778" cy="800"/><circle cx="802" cy="801"/><circle cx="837" cy="797"/><circle cx="864" cy="792"/><circle cx="930" cy="789"/><circle cx="972" cy="786"/><circle cx="987" cy="782"/><circle cx="987" cy="793"/><circle cx="977" cy="790"/><circle cx="736" cy="834"/><circle cx="758" cy="848"/><circle cx="782" cy="848"/><circle cx="780" cy="819"/><circle cx="787" cy="823"/><circle cx="798" cy="834"/><circle cx="811" cy="826"/><circle cx="820" cy="825"/><circle cx="826" cy="826"/><circle cx="850" cy="830"/><circle cx="850" cy="842"/><circle cx="809" cy="848"/><circle cx="802" cy="863"/><circle cx="811" cy="863"/><circle cx="833" cy="857"/><circle cx="837" cy="876"/><circle cx="814" cy="822"/><circle cx="825" cy="835"/><circle cx="804" cy="858"/></g>
<g id="pink-mid" class="s" fill="#e0309a"><circle cx="982" cy="853"/><circle cx="990" cy="869"/><circle cx="985" cy="876"/><circle cx="998" cy="877"/><circle cx="1008" cy="886"/><circle cx="982" cy="885"/><circle cx="993" cy="892"/><circle cx="972" cy="898"/><circle cx="966" cy="905"/><circle cx="995" cy="901"/><circle cx="1003" cy="910"/><circle cx="1040" cy="879"/><circle cx="1055" cy="880"/><circle cx="1040" cy="888"/><circle cx="1055" cy="890"/></g>
<g id="lime-chain" class="s" fill="#92e41a"><circle cx="1108" cy="871"/><circle cx="1126" cy="875"/><circle cx="1152" cy="850"/><circle cx="1150" cy="857"/><circle cx="1152" cy="865"/><circle cx="1160" cy="863"/><circle cx="1145" cy="874"/><circle cx="1166" cy="872"/><circle cx="1152" cy="877"/><circle cx="1160" cy="882"/><circle cx="1171" cy="881"/><circle cx="1147" cy="885"/><circle cx="1166" cy="887"/><circle cx="1179" cy="885"/><circle cx="1147" cy="892"/><circle cx="1163" cy="894"/><circle cx="1176" cy="896"/><circle cx="1150" cy="902"/><circle cx="1163" cy="901"/><circle cx="1176" cy="904"/><circle cx="1152" cy="918"/><circle cx="1181" cy="916"/><circle cx="1181" cy="932"/><circle cx="1189" cy="933"/><circle cx="1192" cy="850"/><circle cx="1202" cy="850"/><circle cx="1207" cy="855"/><circle cx="1207" cy="863"/><circle cx="1194" cy="866"/><circle cx="1192" cy="874"/><circle cx="1194" cy="881"/><circle cx="1181" cy="874"/><circle cx="1197" cy="885"/><circle cx="1179" cy="866"/><circle cx="1221" cy="881"/><circle cx="1234" cy="874"/><circle cx="1234" cy="885"/><circle cx="1244" cy="881"/><circle cx="1231" cy="892"/><circle cx="1262" cy="881"/><circle cx="1276" cy="881"/><circle cx="1304" cy="882"/><circle cx="1344" cy="885"/><circle cx="1346" cy="894"/><circle cx="1362" cy="881"/><circle cx="1375" cy="881"/><circle cx="1354" cy="898"/><circle cx="1373" cy="905"/><circle cx="1365" cy="912"/><circle cx="1407" cy="877"/><circle cx="1435" cy="877"/><circle cx="1449" cy="863"/><circle cx="1451" cy="870"/><circle cx="1451" cy="877"/><circle cx="1446" cy="885"/></g>
<g id="green-bottom" class="s" fill="#5fe01e"><circle cx="806" cy="968"/><circle cx="775" cy="983"/><circle cx="791" cy="978"/><circle cx="804" cy="984"/><circle cx="814" cy="987"/><circle cx="799" cy="993"/><circle cx="861" cy="996"/><circle cx="864" cy="1004"/><circle cx="856" cy="1007"/><circle cx="872" cy="1009"/><circle cx="851" cy="1013"/><circle cx="867" cy="1015"/><circle cx="859" cy="1020"/><circle cx="903" cy="984"/><circle cx="909" cy="998"/><circle cx="930" cy="991"/><circle cx="943" cy="996"/><circle cx="930" cy="1004"/><circle cx="951" cy="1004"/><circle cx="956" cy="1018"/><circle cx="961" cy="1017"/><circle cx="903" cy="1013"/><circle cx="930" cy="1009"/><circle cx="969" cy="995"/><circle cx="977" cy="1000"/><circle cx="1000" cy="996"/><circle cx="1019" cy="989"/><circle cx="1032" cy="984"/><circle cx="1024" cy="1002"/><circle cx="1034" cy="1007"/><circle cx="1053" cy="973"/><circle cx="1061" cy="984"/><circle cx="1061" cy="991"/><circle cx="1061" cy="1004"/><circle cx="1055" cy="1009"/><circle cx="1040" cy="1020"/><circle cx="1028" cy="994"/><circle cx="1044" cy="990"/></g>
<g id="magenta-bottom" class="s" fill="#e040e8"><circle cx="1189" cy="984"/><circle cx="1223" cy="978"/><circle cx="1226" cy="989"/><circle cx="1221" cy="995"/><circle cx="1234" cy="1000"/><circle cx="1210" cy="1000"/><circle cx="1221" cy="1004"/><circle cx="1207" cy="1007"/><circle cx="1226" cy="1011"/><circle cx="1215" cy="1017"/><circle cx="1236" cy="1004"/><circle cx="1262" cy="1000"/><circle cx="1294" cy="998"/><circle cx="1315" cy="995"/><circle cx="1247" cy="1029"/></g>
<g id="crimson-bottomright" class="s" fill="#e4205a"><circle cx="1493" cy="958"/><circle cx="1483" cy="963"/><circle cx="1501" cy="963"/><circle cx="1491" cy="969"/><circle cx="1501" cy="973"/><circle cx="1511" cy="971"/><circle cx="1485" cy="978"/><circle cx="1501" cy="978"/><circle cx="1480" cy="987"/><circle cx="1493" cy="991"/><circle cx="1501" cy="998"/><circle cx="1522" cy="991"/><circle cx="1535" cy="967"/><circle cx="1527" cy="995"/><circle cx="1504" cy="987"/></g>
</g>
<rect x="0" y="0" width="1570" height="120.5" fill="#fff"/>
<g id="labels">
<text class="lbl" x="494" y="209">Politics</text>
<text class="lbl" x="808" y="271">Trading</text>
<text class="lbl" x="38" y="336">Gambling</text>
<text class="lbl" x="1060" y="703">Scrapbooking</text>
<text class="lbl" x="796" y="759">Traveling</text>
</g>
</g>
<rect x="1.5" y="1.5" width="2729" height="2045" fill="none" stroke="#4a4a4a" stroke-width="3"/>
</svg>
